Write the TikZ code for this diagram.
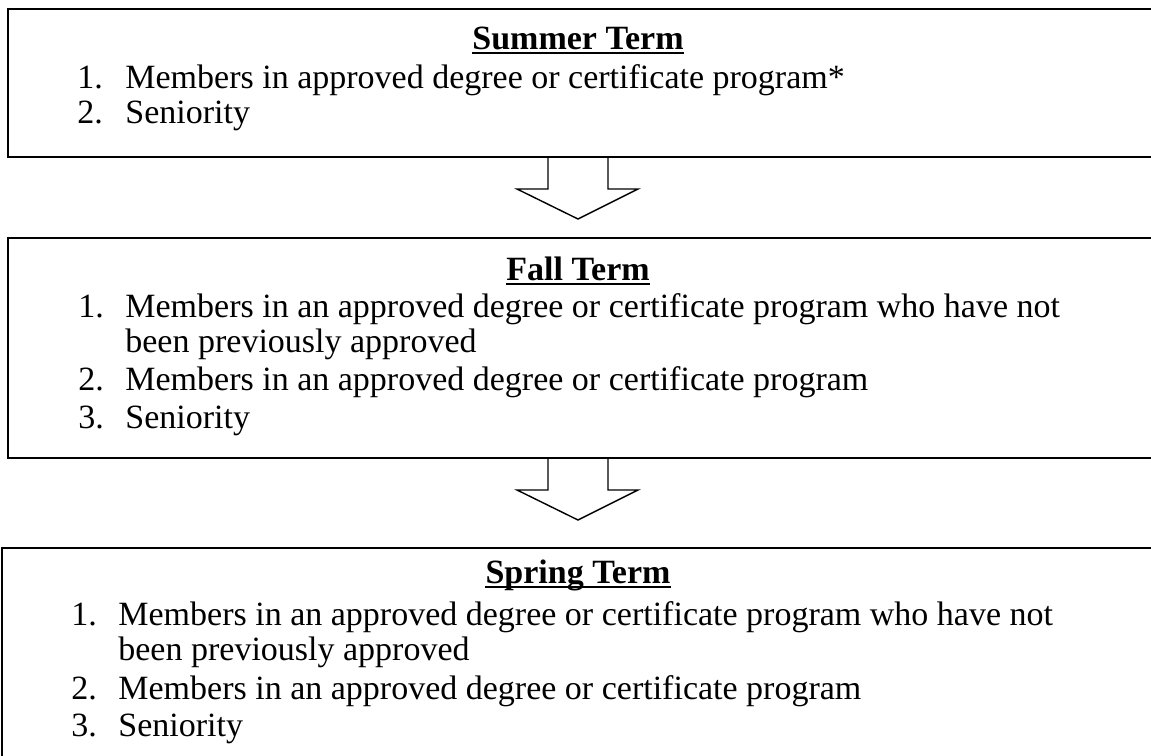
\documentclass[tikz,border=0pt]{standalone}
\usepackage{fontspec}
\setmainfont{Liberation Serif}
\usetikzlibrary{positioning}

\begin{document}
\begin{tikzpicture}[x=0.5pt, y=-0.5pt, font=\fontsize{17}{20}\selectfont,
    termbox/.style={draw, line width=1pt, minimum width=600pt, anchor=north west, inner sep=0},
    heading/.style={anchor=base, inner sep=0, font=\fontsize{17}{20}\selectfont\bfseries},
    entry/.style={anchor=base west, inner sep=0},
    arrowline/.style={line width=0.7pt, line join=miter}]

        \useasboundingbox (0,0) rectangle (1151,755);
        \clip (0,0) rectangle (1151,755);

        % the three boxes, they run off the page on the right
        \node[termbox, minimum height=74pt] (summer) at (7,8) {};
        \node[termbox, minimum height=110pt] (fall) at (7,237) {};
        \node[termbox, minimum height=125pt] (spring) at (1,547) {};

        \coordinate (centre) at (578,0);

        % summer term
        \node[heading] (summerhead) at (578,49) {Summer Term};
        \node[entry] (s1n) at (77,88) {1.};
        \node[entry] (s1) at (125,88) {Members in approved degree or certificate program*};
        \node[entry] (s2n) at (77,123) {2.};
        \node[entry] (s2) at (125,123) {Seniority};

        % fall term
        \node[heading] (fallhead) at (578,280) {Fall Term};
        \node[entry] (f1n) at (78,317) {1.};
        \node[entry] (f1) at (125,317) {Members in an approved degree or certificate program who have not};
        \node[entry] (f1b) at (125,352) {been previously approved};
        \node[entry] (f2n) at (78,390) {2.};
        \node[entry] (f2) at (125,390) {Members in an approved degree or certificate program};
        \node[entry] (f3n) at (78,428) {3.};
        \node[entry] (f3) at (125,428) {Seniority};

        % spring term
        \node[heading] (springhead) at (578,583) {Spring Term};
        \node[entry] (p1n) at (71,625) {1.};
        \node[entry] (p1) at (118,625) {Members in an approved degree or certificate program who have not};
        \node[entry] (p1b) at (118,660) {been previously approved};
        \node[entry] (p2n) at (71,699) {2.};
        \node[entry] (p2) at (118,699) {Members in an approved degree or certificate program};
        \node[entry] (p3n) at (71,736) {3.};
        \node[entry] (p3) at (118,736) {Seniority};

        % underlines under the headings
        \foreach \h in {summerhead, fallhead, springhead}{
          \draw[line width=1pt] ([yshift=-2pt]\h.base west) -- ([yshift=-2pt]\h.base east);
          }

        % block arrows hanging from the box bottoms
        \foreach \b in {summer, fall}{
          \draw[arrowline] ([xshift=-15pt]\b.south -| centre) -- ++(0,31) -- ++(-31,0)
            -- ++(61,30) -- ++(60,-30) -- ++(-30,0) -- ++(0,-31);
          }
      \end{tikzpicture}
\end{document}
